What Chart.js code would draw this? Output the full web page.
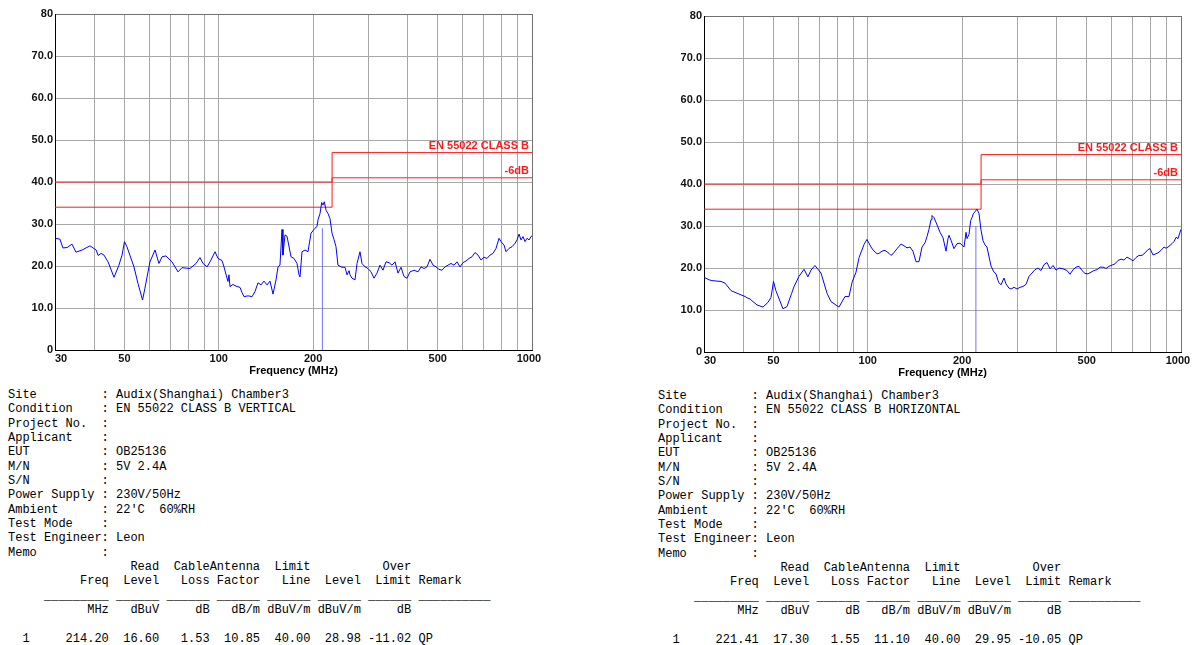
<!DOCTYPE html>
<html>
<head>
<meta charset="utf-8">
<script src="https://cdn.jsdelivr.net/npm/chart.js@4.4.1/dist/chart.umd.min.js"></script>
<style>
  html, body { margin: 0; padding: 0; background: #fff; overflow: hidden; }
  body { width: 1195px; height: 645px; position: relative; }
  canvas { position: absolute; }
  #chartV { left: 0; top: 0; }
  #chartH { left: 649px; top: 2px; }
  pre { position: absolute; margin: 0; font: 12px/14.33px "Liberation Mono", "Courier New", monospace; color: #000; }
  #infoV { left: 8px; top: 388px; }
  #infoH { left: 658px; top: 389px; }
</style>
</head>
<body>
<canvas id="chartV" width="560" height="385"></canvas>
<canvas id="chartH" width="560" height="385"></canvas>
<pre id="infoV"></pre>
<pre id="infoH"></pre>
<script>
// frequencies (MHz) the two scans were read at
const FREQ = [
  30.0, 31.1, 31.8, 32.8, 34.0, 35.0, 36.6, 38.8, 40.6, 41.2,
  42.1, 43.0, 44.3, 46.3, 48.0, 49.1, 50.0, 50.9, 53.6, 55.2,
  57.1, 58.1, 60.3, 62.6, 64.4, 65.9, 67.8, 70.9, 74.1, 76.3,
  80.9, 84.6, 87.1, 89.1, 91.7, 93.8, 97.3, 99.4, 102.4, 103.9,
  107.0, 107.8, 108.6, 111.0, 113.5, 116.9, 118.6, 120.4, 124.0, 127.7,
  130.5, 133.4, 136.4, 139.4, 142.6, 145.7, 149.0, 152.3, 154.6, 156.8,
  159.2, 160.3, 162.7, 165.1, 170.1, 173.9, 177.7, 180.4, 181.7, 184.4,
  188.5, 192.7, 197.0, 202.9, 205.9, 207.4, 210.5, 213.1, 215.2, 217.2,
  220.0, 223.2, 226.5, 229.9, 233.3, 236.7, 240.2, 247.4, 252.9, 256.7,
  260.5, 262.4, 266.3, 272.2, 276.3, 282.4, 286.6, 293.0, 299.5, 306.2,
  313.0, 320.0, 327.1, 334.4, 341.9, 349.5, 357.3, 365.3, 373.4, 381.8,
  390.3, 399.0, 407.9, 420.1, 432.6, 442.3, 452.1, 462.2, 472.5, 483.1,
  493.8, 504.8, 516.1, 527.6, 539.4, 551.4, 563.7, 576.3, 589.1, 602.3,
  615.7, 629.4, 643.5, 657.8, 672.5, 687.5, 702.8, 718.5, 734.5, 750.9,
  767.6, 784.8, 796.4, 814.1, 826.2, 844.6, 863.5, 882.7, 895.8, 909.1,
  922.6, 936.2, 950.1, 964.2, 978.5, 993.0, 1000
];

// vertical polarisation, dBuV/m
const LEVEL_V = [
  26.6, 26.4, 24.3, 24.4, 25.2, 23.3, 23.8, 24.8, 23.8, 22.5,
  23.0, 22.6, 21.0, 17.3, 20.2, 22.6, 25.8, 24.6, 19.8, 15.9,
  11.9, 14.7, 21.0, 23.8, 20.6, 22.2, 22.4, 21.0, 18.6, 19.6,
  19.4, 20.6, 22.0, 20.6, 19.8, 21.0, 23.4, 21.8, 21.3, 19.8,
  16.3, 17.9, 15.1, 15.6, 15.2, 14.9, 13.7, 12.7, 12.9, 12.7,
  13.9, 16.0, 15.5, 16.4, 15.5, 16.4, 13.3, 16.7, 19.8, 20.2,
  28.7, 22.6, 27.4, 27.1, 22.2, 21.8, 20.6, 17.9, 17.4, 23.4,
  23.8, 23.4, 27.8, 29.0, 29.4, 31.0, 32.5, 35.1, 34.5, 35.3,
  33.3, 32.5, 31.3, 27.8, 26.3, 24.6, 20.2, 19.7, 19.7, 17.9,
  18.9, 17.9, 17.1, 16.7, 20.6, 23.4, 20.6, 19.8, 19.4, 18.6,
  17.1, 18.3, 20.2, 19.0, 21.0, 20.8, 20.2, 21.0, 18.3, 19.7,
  17.5, 17.1, 18.6, 19.0, 18.6, 19.8, 19.4, 19.8, 21.6, 20.2,
  19.8, 19.2, 19.0, 19.8, 20.2, 20.6, 20.2, 21.0, 19.8, 20.8,
  21.2, 21.8, 22.2, 23.2, 22.6, 21.4, 22.1, 21.8, 22.6, 23.0,
  24.2, 26.6, 25.8, 25.0, 23.4, 24.2, 24.6, 25.4, 26.2, 27.6,
  26.2, 27.0, 25.8, 26.6, 26.2, 27.0, 27.2
];

// horizontal polarisation, dBuV/m
const LEVEL_H = [
  17.8, 17.2, 17.0, 16.9, 16.8, 16.4, 14.6, 13.8, 13.2, 12.9,
  12.6, 12.0, 11.2, 10.7, 11.8, 13.0, 16.8, 14.6, 10.3, 10.8,
  13.9, 15.5, 18.0, 19.7, 17.9, 19.5, 20.6, 18.8, 14.0, 12.0,
  10.7, 13.2, 13.2, 16.6, 19.0, 22.5, 25.6, 26.8, 25.0, 24.3,
  23.4, 23.4, 23.5, 24.0, 24.2, 23.5, 23.0, 23.4, 24.6, 25.7,
  25.3, 24.8, 25.0, 24.0, 21.5, 21.5, 25.0, 26.0, 27.5, 29.2,
  31.5, 32.5, 32.0, 30.9, 28.5, 27.2, 24.0, 27.0, 27.8, 26.6,
  24.6, 25.8, 25.9, 25.0, 28.5, 27.0, 28.0, 31.3, 32.0, 32.9,
  33.4, 34.0, 33.0, 29.0, 26.5, 25.5, 25.0, 20.5, 19.0, 18.6,
  17.0, 16.5, 16.0, 17.6, 16.2, 15.2, 15.0, 15.4, 15.0, 15.4,
  15.6, 16.1, 18.0, 18.8, 19.6, 20.0, 19.4, 20.8, 21.3, 19.8,
  20.6, 19.5, 20.0, 19.8, 19.4, 18.5, 19.6, 20.2, 20.4, 19.4,
  18.7, 18.6, 19.0, 19.4, 19.6, 20.2, 20.2, 19.9, 20.4, 20.7,
  21.0, 21.8, 22.1, 21.9, 22.6, 22.2, 21.7, 22.5, 23.0, 23.0,
  23.6, 24.4, 24.6, 23.1, 23.3, 23.6, 24.2, 25.0, 24.7, 25.0,
  25.4, 25.8, 26.3, 27.3, 27.0, 28.5, 29.2
];

const LIMIT_FREQ = [30, 230, 230, 1000];
const LIMIT_CLASS_B = [40, 40, 47, 47];
const LIMIT_6DB = [34, 34, 41, 41];
const LIMIT_NAMES = ['EN 55022 CLASS B', '-6dB'];

const X_GRID = [30, 40, 50, 60, 70, 80, 90, 100, 200, 300, 400, 500, 600, 700, 800, 900, 1000];
const X_LABELS = [30, 50, 100, 200, 500, 1000];

const INFO_KEYS = ['Site', 'Condition', 'Project No.', 'Applicant', 'EUT', 'M/N', 'S/N',
  'Power Supply', 'Ambient', 'Test Mode', 'Test Engineer', 'Memo'];
const INFO_V = ['Audix(Shanghai) Chamber3', 'EN 55022 CLASS B VERTICAL', '', '', 'OB25136',
  '5V 2.4A', '', '230V/50Hz', "22'C  60%RH", '', 'Leon', ''];
const INFO_H = ['Audix(Shanghai) Chamber3', 'EN 55022 CLASS B HORIZONTAL', '', '', 'OB25136',
  '5V 2.4A', '', '230V/50Hz', "22'C  60%RH", '', 'Leon', ''];

const HEAD_1 = ['', 'Read', 'Cable', 'Antenna', 'Limit', '', 'Over'];
const HEAD_2 = ['Freq', 'Level', 'Loss', 'Factor', 'Line', 'Level', 'Limit'];
const UNITS = ['MHz', 'dBuV', 'dB', 'dB/m', 'dBuV/m', 'dBuV/m', 'dB'];
// no, freq, read level, cable loss, antenna factor, limit, level, over limit, remark
const PEAK_V = ['1', '214.20', '16.60', '1.53', '10.85', '40.00', '28.98', '-11.02', 'QP'];
const PEAK_H = ['1', '221.41', '17.30', '1.55', '11.10', '40.00', '29.95', '-10.05', 'QP'];

const FONT = '"Liberation Sans", Arial, sans-serif';

/* ---------- text block under each plot ---------- */
function cols(arr) {
  return arr[0].padStart(14) + arr.slice(1).map(s => s.padStart(7)).join('');
}

function infoText(vals, peak) {
  const lines = INFO_KEYS.map((k, i) => k.padEnd(13) + ': ' + vals[i]);
  lines.push(cols(HEAD_1));
  lines.push(cols(HEAD_2) + ' Remark');
  lines.push(' '.repeat(5) + '_'.repeat(9) + (' ' + '_'.repeat(6)).repeat(6) + ' ' + '_'.repeat(10));
  lines.push(cols(UNITS));
  lines.push('');
  lines.push('  ' + peak[0] + peak[1].padStart(11) + peak.slice(2, 8).map(s => s.padStart(7)).join('') + ' ' + peak[8]);
  return lines.join('\n');
}

document.getElementById('infoV').textContent = infoText(INFO_V, PEAK_V);
document.getElementById('infoH').textContent = infoText(INFO_H, PEAK_H);

/* ---------- plots ---------- */
const limitLabels = {
  id: 'limitLabels',
  afterDatasetsDraw(chart) {
    const { ctx, chartArea, scales: { y } } = chart;
    ctx.save();
    ctx.font = 'bold 11px ' + FONT;
    ctx.fillStyle = '#ff1a1a';
    ctx.textAlign = 'right';
    ctx.textBaseline = 'bottom';
    ctx.fillText(LIMIT_NAMES[0], chartArea.right - 3, y.getPixelForValue(LIMIT_CLASS_B[3]) - 1);
    ctx.fillText(LIMIT_NAMES[1], chartArea.right - 3, y.getPixelForValue(LIMIT_6DB[3]) - 1);
    ctx.restore();
  }
};

function pts(xs, ys) {
  return xs.map((x, i) => ({ x, y: ys[i] }));
}

function makeChart(id, levels, peak) {
  const f = parseFloat(peak[1]);
  const lvl = parseFloat(peak[6]);
  new Chart(document.getElementById(id), {
    type: 'line',
    data: {
      datasets: [
        { data: pts(FREQ, levels), borderColor: '#0000ff', borderWidth: 1 },
        { data: [{ x: f, y: 0 }, { x: f, y: lvl }], borderColor: 'rgba(80,80,255,0.8)', borderWidth: 1 },
        { data: pts(LIMIT_FREQ, LIMIT_CLASS_B), borderColor: '#ff1a1a', borderWidth: 1 },
        { data: pts(LIMIT_FREQ, LIMIT_6DB), borderColor: '#ff1a1a', borderWidth: 1 }
      ]
    },
    options: {
      responsive: false,
      animation: false,
      layout: { padding: { left: 5, right: 28, top: 14, bottom: 5 } },
      elements: { point: { radius: 0 }, line: { tension: 0 } },
      plugins: { legend: { display: false }, tooltip: { enabled: false } },
      scales: {
        x: {
          type: 'logarithmic',
          min: 30,
          max: 1000,
          afterBuildTicks: s => { s.ticks = X_GRID.map(v => ({ value: v })); },
          afterFit: s => { s.height = 30; },
          grid: { color: c => (c.tick && c.tick.value === 1000) ? '#707070' : '#a8a8a8', drawTicks: false },
          border: { color: '#000' },
          ticks: {
            autoSkip: false,
            maxRotation: 0,
            padding: 2,
            color: '#111',
            font: { family: FONT, size: 11, weight: 'bold' },
            callback: v => {
              if (!X_LABELS.includes(v)) return '';
              if (v === 30) return '    30';
              if (v === 1000) return '1000  ';
              return String(v);
            }
          },
          title: {
            display: true,
            text: 'Frequency (MHz)',
            color: '#000',
            font: { family: FONT, size: 11, weight: 'bold' },
            padding: { top: 0, bottom: 2 }
          }
        },
        y: {
          min: 0,
          max: 80,
          afterFit: s => { s.width = 50; },
          grid: { color: c => (c.tick && c.tick.value === 80) ? '#707070' : '#a8a8a8', drawTicks: false },
          border: { color: '#000' },
          ticks: {
            stepSize: 10,
            padding: 2,
            color: '#111',
            font: { family: FONT, size: 11, weight: 'bold' },
            callback: v => (v === 0 || v === 80) ? String(v) : v.toFixed(1)
          }
        }
      }
    },
    plugins: [limitLabels]
  });
}

makeChart('chartV', LEVEL_V, PEAK_V);
makeChart('chartH', LEVEL_H, PEAK_H);
</script>
</body>
</html>
